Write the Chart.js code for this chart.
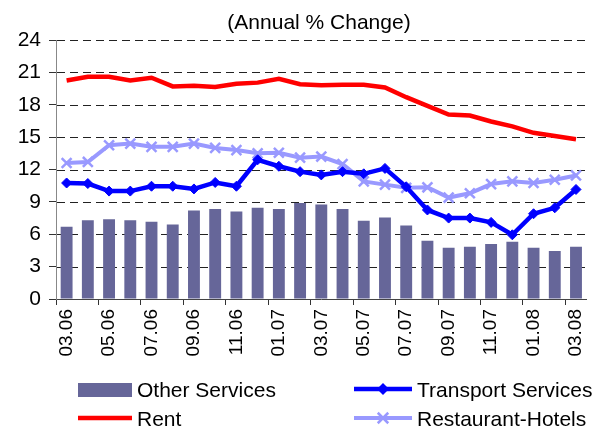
<!DOCTYPE html>
<html>
<head>
<meta charset="utf-8">
<script src="https://cdn.jsdelivr.net/npm/chart.js@4.4.0/dist/chart.umd.min.js"></script>
<style>
  body { margin: 0; background: #fff; }
  #wrap { width: 603px; height: 432px; position: relative; }
</style>
</head>
<body>
<div id="wrap"><canvas id="servicesChart"></canvas></div>
<script>
// month labels, 03.06 .. 03.08
const months = ['03.06', '04.06', '05.06', '06.06', '07.06', '08.06', '09.06', '10.06', '11.06', '12.06',
  '01.07', '02.07', '03.07', '04.07', '05.07', '06.07', '07.07', '08.07', '09.07', '10.07', '11.07', '12.07',
  '01.08', '02.08', '03.08'];
const otherServices = [6.7, 7.3, 7.4, 7.3, 7.15, 6.9, 8.2, 8.35, 8.1, 8.45, 8.35, 8.9, 8.75, 8.35, 7.25, 7.55, 6.8, 5.4, 4.75, 4.85, 5.1, 5.3, 4.75, 4.45, 4.85];
const rent = [20.25, 20.6, 20.6, 20.25, 20.5, 19.7, 19.75, 19.65, 19.95, 20.05, 20.4, 19.9, 19.8, 19.85, 19.85, 19.6, 18.7, 17.9, 17.1, 17.0, 16.45, 16.0, 15.4, 15.1, 14.8];
const transport = [10.75, 10.7, 10.0, 10.0, 10.45, 10.45, 10.2, 10.8, 10.45, 12.9, 12.3, 11.8, 11.5, 11.8, 11.6, 12.1, 10.4, 8.25, 7.5, 7.5, 7.1, 5.95, 7.9, 8.45, 10.15];
const restaurantHotels = [12.6, 12.7, 14.25, 14.4, 14.1, 14.1, 14.4, 14.0, 13.8, 13.5, 13.55, 13.1, 13.2, 12.5, 10.9, 10.6, 10.3, 10.35, 9.4, 9.8, 10.65, 10.9, 10.75, 11.05, 11.45];
const yTicks = [0, 3, 6, 9, 12, 15, 18, 21, 24];
const chartTitle = '(Annual % Change)';

const FONT = "'Liberation Sans', Arial, sans-serif";

// title + 2x2 legend drawn by hand so they sit where the original has them
const titleAndLegend = {
  id: 'titleAndLegend',
  afterDraw(chart) {
    const ctx = chart.ctx;
    ctx.save();
    ctx.fillStyle = '#000';
    ctx.font = '21px ' + FONT;
    ctx.textAlign = 'center';
    ctx.textBaseline = 'alphabetic';
    ctx.fillText(chartTitle, 319, 29);

    // legend order: Other Services, Transport Services / Rent, Restaurant-Hotels
    const slots = [
      { ds: 0, x: 78, w: 54, cy: 390, base: 397 },
      { ds: 1, x: 354, w: 58, cy: 389, base: 397 },
      { ds: 2, x: 78, w: 54, cy: 418, base: 426 },
      { ds: 3, x: 354, w: 58, cy: 418, base: 426 }
    ];
    ctx.textAlign = 'left';
    slots.forEach(s => {
      const d = chart.data.datasets[s.ds];
      if (d.type === 'bar') {
        ctx.fillStyle = d.backgroundColor;
        ctx.fillRect(s.x, s.cy - 7, s.w, 14);
      } else {
        ctx.strokeStyle = d.borderColor;
        ctx.lineWidth = d.borderWidth;
        ctx.beginPath();
        ctx.moveTo(s.x, s.cy);
        ctx.lineTo(s.x + s.w, s.cy);
        ctx.stroke();
        const mx = s.x + s.w / 2;
        if (d.pointStyle === 'rectRot') {
          const r = d.pointRadius + 1;
          ctx.fillStyle = d.pointBackgroundColor;
          ctx.beginPath();
          ctx.moveTo(mx, s.cy - r);
          ctx.lineTo(mx + r, s.cy);
          ctx.lineTo(mx, s.cy + r);
          ctx.lineTo(mx - r, s.cy);
          ctx.closePath();
          ctx.fill();
        } else if (d.pointStyle === 'crossRot') {
          const r = d.pointRadius * 0.75;
          ctx.strokeStyle = d.pointBorderColor;
          ctx.lineWidth = d.pointBorderWidth;
          ctx.beginPath();
          ctx.moveTo(mx - r, s.cy - r);
          ctx.lineTo(mx + r, s.cy + r);
          ctx.moveTo(mx + r, s.cy - r);
          ctx.lineTo(mx - r, s.cy + r);
          ctx.stroke();
        }
      }
      ctx.fillStyle = '#000';
      ctx.font = '21px ' + FONT;
      ctx.fillText(d.label, s.x + s.w + 5, s.base);
    });
    ctx.restore();
  }
};

// dashed horizontal gridlines, drawn under the datasets
const dashedGrid = {
  id: 'dashedGrid',
  beforeDatasetsDraw(chart) {
    const { ctx, chartArea, scales } = chart;
    ctx.save();
    ctx.strokeStyle = '#222';
    ctx.lineWidth = 1;
    ctx.setLineDash([8, 5]);
    yTicks.forEach(v => {
      if (v === 0) return;
      const y = Math.round(scales.y.getPixelForValue(v)) + 0.5;
      ctx.beginPath();
      ctx.moveTo(chartArea.left + 1, y);
      ctx.lineTo(chartArea.right, y);
      ctx.stroke();
    });
    ctx.restore();
  }
};

new Chart(document.getElementById('servicesChart'), {
  data: {
    labels: months,
    datasets: [
      {
        type: 'bar',
        label: 'Other Services',
        data: otherServices,
        backgroundColor: '#666699',
        barPercentage: 0.56,
        categoryPercentage: 1,
        order: 4
      },
      {
        type: 'line',
        label: 'Transport Services',
        data: transport,
        borderColor: '#0000ff',
        borderWidth: 4.5,
        pointStyle: 'rectRot',
        pointRadius: 5,
        pointBackgroundColor: '#0000ff',
        pointBorderColor: '#0000ff',
        pointBorderWidth: 1,
        tension: 0,
        order: 1
      },
      {
        type: 'line',
        label: 'Rent',
        data: rent,
        borderColor: '#ff0000',
        borderWidth: 4.5,
        pointRadius: 0,
        tension: 0,
        order: 2
      },
      {
        type: 'line',
        label: 'Restaurant-Hotels',
        data: restaurantHotels,
        borderColor: '#9999ff',
        borderWidth: 4,
        pointStyle: 'crossRot',
        pointRadius: 7,
        pointBorderColor: '#9999ff',
        pointBackgroundColor: '#9999ff',
        pointBorderWidth: 2.5,
        tension: 0,
        order: 3
      }
    ]
  },
  options: {
    responsive: true,
    maintainAspectRatio: false,
    animation: false,
    layout: { padding: { top: 40, right: 10, bottom: 0, left: 0 } },
    plugins: {
      legend: { display: false },
      title: { display: false },
      tooltip: { enabled: false }
    },
    scales: {
      x: {
        offset: true,
        afterFit(scale) { scale.height = 133; },
        grid: {
          offset: true,
          drawOnChartArea: false,
          tickLength: 6,
          color: ctx => (ctx.type === 'tick' && ctx.index % 2 === 0) ? '#333' : 'rgba(0,0,0,0)'
        },
        border: { color: '#444', width: 1 },
        ticks: {
          autoSkip: false,
          minRotation: 90,
          maxRotation: 90,
          padding: 4,
          color: '#000',
          font: { family: FONT, size: 19 },
          callback: (v, i) => (i % 2 === 0 ? months[i] : '')
        }
      },
      y: {
        min: yTicks[0],
        max: yTicks[yTicks.length - 1],
        afterFit(scale) { scale.width = 56; },
        afterBuildTicks(scale) { scale.ticks = yTicks.map(v => ({ value: v })); },
        grid: {
          drawOnChartArea: false,
          color: '#333',
          tickColor: '#333',
          tickLength: 7,
          lineWidth: 1
        },
        border: { color: '#888', width: 1 },
        ticks: {
          padding: 8,
          color: '#000',
          font: { family: FONT, size: 21 }
        }
      }
    }
  },
  plugins: [dashedGrid, titleAndLegend]
});
</script>
</body>
</html>
